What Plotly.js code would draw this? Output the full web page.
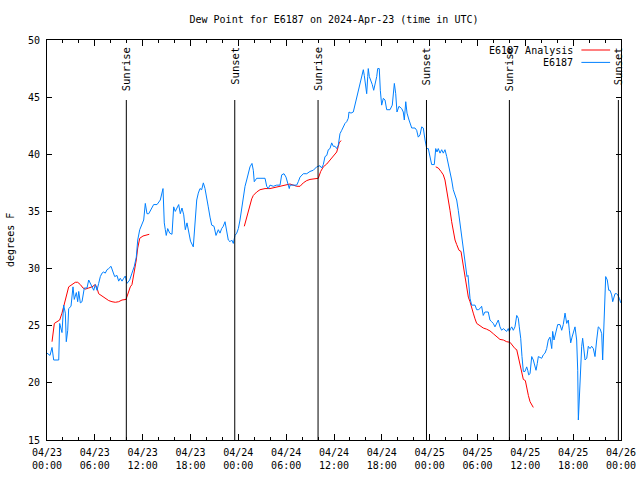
<!DOCTYPE html>
<html>
<head>
<meta charset="utf-8">
<script src="https://cdn.plot.ly/plotly-3.0.1.min.js"></script>
<style>html,body{margin:0;padding:0;background:#fff;}#chart{width:640px;height:480px;}</style>
</head>
<body>
<div id="chart"></div>
<script>
// Hours since 2024-04-23 00:00 UTC
var blueHours = [0.0,0.38,0.63,0.84,1.47,1.59,1.88,2.09,2.30,2.42,2.60,2.72,3.01,3.26,3.42,3.68,3.85,3.98,4.18,4.39,4.68,5.02,5.23,5.43,5.64,5.86,6.06,6.27,6.48,6.69,6.90,7.11,7.31,7.53,7.74,8.03,8.28,8.49,8.78,8.99,9.19,9.41,9.62,9.82,10.03,10.37,10.66,10.95,11.20,11.38,11.63,11.92,12.13,12.33,12.54,12.76,13.17,13.38,13.80,14.21,14.55,14.71,14.84,14.96,15.14,15.39,15.68,15.89,16.09,16.31,16.52,16.72,16.93,17.15,17.35,17.56,17.77,18.00,18.35,18.56,18.78,18.98,19.19,19.40,19.61,19.82,20.03,20.23,20.45,20.66,20.95,21.20,21.49,21.70,21.91,22.11,22.33,22.54,22.74,22.96,23.17,23.37,23.58,23.80,24.00,24.21,24.42,24.62,24.84,25.05,25.25,25.46,25.71,25.88,26.00,26.30,26.72,27.35,27.56,27.76,27.97,28.39,28.81,29.23,29.44,29.73,29.98,30.14,30.39,30.48,30.90,31.32,31.52,31.74,32.15,32.58,32.99,33.40,33.83,34.24,34.46,34.66,34.87,35.09,35.29,35.50,35.71,35.91,36.13,36.34,36.54,36.67,36.75,36.97,37.17,37.38,37.59,37.79,37.88,38.13,38.42,38.63,38.85,39.05,39.26,39.47,39.68,39.80,39.98,40.10,40.23,40.30,40.43,40.60,40.80,40.98,41.14,41.36,41.48,41.68,41.81,41.98,42.19,42.40,42.61,43.03,43.31,43.57,43.74,43.90,44.15,44.49,44.69,44.82,45.00,45.16,45.41,45.75,46.16,46.37,46.57,46.79,47.00,47.20,47.42,47.63,47.83,48.04,48.25,48.58,48.76,48.92,49.08,49.30,49.51,49.71,49.92,50.14,50.34,50.55,50.76,50.96,51.18,51.39,51.59,51.81,51.93,52.10,52.22,52.43,52.56,52.68,52.81,52.93,53.06,53.27,53.69,53.90,54.10,54.31,54.52,54.72,54.93,55.35,55.56,55.77,55.98,56.19,56.41,56.61,56.82,57.03,57.24,57.45,57.66,57.86,57.99,58.16,58.29,58.49,58.70,58.92,59.12,59.24,59.42,59.58,59.75,59.96,60.17,60.30,60.42,60.59,60.80,61.00,61.13,61.34,61.50,61.63,62.05,62.25,62.47,62.68,62.88,63.09,63.31,63.43,63.60,63.85,64.06,64.35,64.56,64.76,64.98,65.19,65.39,65.52,65.69,65.86,66.02,66.23,66.44,66.57,66.65,66.77,66.86,67.07,67.19,67.36,67.49,67.70,67.90,68.11,68.32,68.53,68.74,68.95,69.15,69.37,69.58,69.70,69.87,69.99,70.08,70.28,70.46,70.62,70.83,70.96,71.12,71.25,71.46,71.59,71.79,71.97];
var blueDew = [22.6,22.4,23.1,22.0,22.0,25.2,24.4,26.8,26.1,23.6,24.6,26.5,26.7,28.4,27.3,27.9,27.1,28.0,27.0,27.1,28.3,28.3,29.0,28.7,28.4,28.1,28.6,28.1,28.7,29.3,29.6,29.7,29.6,29.9,30.0,30.2,29.7,29.3,29.4,28.9,29.15,28.9,29.15,29.35,28.7,29.0,29.6,30.2,31.0,32.5,33.4,34.0,34.25,35.7,34.8,34.8,35.4,35.6,35.6,36.0,37.0,34.0,33.4,32.9,33.5,33.1,33.0,35.4,35.0,35.3,35.6,34.8,35.3,34.7,33.4,34.0,33.2,32.4,31.9,34.25,36.0,36.6,37.0,36.9,37.5,37.0,36.3,35.4,34.5,33.8,33.7,32.9,33.4,33.1,33.5,33.7,34.1,33.2,32.5,32.35,32.5,32.2,32.9,33.1,33.5,34.25,35.4,36.3,37.2,37.75,38.3,38.9,39.2,38.6,37.6,37.9,37.9,37.9,37.2,37.0,37.3,37.2,37.3,37.3,38.2,38.3,38.0,37.5,37.0,37.3,37.3,37.3,37.6,38.0,38.3,38.3,38.5,38.6,38.9,39.0,38.8,39.1,39.8,39.9,40.4,40.5,41.0,40.7,40.7,40.5,40.8,41.5,41.8,42.1,42.4,42.7,42.85,43.15,43.7,43.6,43.7,44.3,45.0,45.5,46.2,46.8,47.4,46.9,46.1,45.3,46.8,47.5,46.8,46.5,46.1,45.6,46.1,46.8,47.5,47.5,45.6,44.3,44.9,44.75,43.9,43.9,44.3,46.2,45.3,43.7,44.2,44.0,43.7,43.0,44.6,43.6,43.0,42.3,42.3,42.1,41.5,41.7,42.4,42.3,41.25,40.5,40.5,39.8,39.1,39.1,40.5,40.2,40.5,40.1,40.4,40.1,40.4,39.8,39.2,38.6,37.75,36.9,36.4,36.0,35.1,34.0,33.1,32.35,31.9,31.0,30.2,29.3,29.4,28.1,27.4,26.8,26.8,26.4,26.4,26.5,26.7,25.9,26.2,26.2,25.5,25.35,25.2,24.9,25.2,25.5,24.9,24.6,24.75,24.6,24.5,24.75,24.5,24.75,24.9,24.6,24.9,25.9,25.65,24.9,23.9,22.3,21.0,21.0,21.4,21.1,20.7,20.8,22.3,22.0,21.7,21.1,21.7,22.3,22.15,22.45,22.6,23.0,23.75,24.0,23.0,24.5,23.75,24.5,25.1,25.1,24.6,25.1,26.1,25.2,25.5,24.6,23.5,24.0,24.5,24.9,23.75,21.1,16.75,19.1,20.8,23.2,23.9,22.9,22.0,22.15,23.2,23.0,23.2,23.0,22.3,23.75,24.9,24.75,24.3,22.0,25.6,27.8,29.3,29.0,28.1,28.1,27.7,27.1,27.5,27.8,27.8,27.7,27.4,27.0];

var redHours = [0.63,0.75,0.92,1.25,1.59,1.88,2.09,2.30,2.51,2.72,3.14,3.55,3.85,4.18,4.52,4.80,5.23,5.64,6.06,6.27,6.48,6.90,7.31,7.74,8.15,8.57,8.99,9.41,9.91,10.12,10.45,10.66,10.95,11.20,11.38,11.63,12.04,12.46,12.83,
  18.0,
  24.75,25.05,25.38,25.68,25.88,26.30,26.72,27.35,27.97,28.60,29.01,29.64,30.48,31.32,31.74,32.15,32.58,32.99,33.62,34.03,34.33,34.66,35.09,35.50,35.91,36.34,36.54,36.65,36.88,
  42.0,
  48.76,49.08,49.42,49.71,49.92,50.14,50.34,50.55,50.76,50.96,51.18,51.39,51.68,51.93,52.10,52.27,52.43,52.64,52.85,53.06,53.27,53.47,53.69,53.90,54.31,54.72,55.13,55.56,55.98,56.41,56.82,57.24,57.66,58.08,58.41,58.70,58.92,59.12,59.24,59.42,59.58,59.75,60.00,60.17,60.38,60.59,60.80,61.00];
var redDew = [23.6,24.3,25.2,25.35,25.5,26.1,26.7,27.25,28.0,28.4,28.6,28.8,28.8,28.6,28.3,28.2,28.3,28.4,28.6,28.3,27.8,27.6,27.4,27.2,27.1,27.05,27.1,27.25,27.3,27.8,28.4,28.6,29.6,30.75,31.8,32.65,32.85,32.9,33.0,
  null,
  33.7,34.5,35.4,36.1,36.4,36.7,36.9,37.0,37.0,37.1,37.2,37.3,37.4,37.2,37.2,37.5,37.7,37.8,37.9,37.9,38.5,38.9,39.15,39.5,39.8,40.2,40.7,41.0,41.2,
  null,
  38.9,38.8,38.5,38.2,37.75,36.9,36.0,35.1,34.1,33.2,32.5,32.1,31.6,31.5,30.75,29.9,29.0,28.1,27.5,27.1,26.5,26.1,25.6,25.2,25.0,24.8,24.7,24.55,24.3,24.0,23.8,23.75,23.6,23.55,23.2,23.0,22.9,22.3,21.7,21.35,20.7,20.3,20.2,19.5,18.9,18.35,18.05,17.85];

var sunriseHours = [9.95, 34.0, 58.0];
var sunsetHours = [23.55, 47.6, 71.67];

var seriesNames = ["E6187 Analysis", "E6187"];
var seriesColors = ["#ff0000", "#0080ff"];

var BASE = Date.UTC(2024, 3, 23);
function toT(h) { return h === null ? null : BASE + h * 3600000; }

var FONT = "DejaVu Sans Mono, monospace";

var traces = [
  {x: redHours.map(toT), y: redDew, type: "scatter", mode: "lines", name: seriesNames[0],
   line: {color: seriesColors[0], width: 1}, connectgaps: false, showlegend: false},
  {x: blueHours.map(toT), y: blueDew, type: "scatter", mode: "lines", name: seriesNames[1],
   line: {color: seriesColors[1], width: 1}, showlegend: false}
];

var shapes = [];
var annotations = [];
function sunMarker(h, label) {
  shapes.push({type: "line", xref: "x", yref: "paper", x0: toT(h), x1: toT(h), y0: 0, y1: 0.85,
               line: {color: "#000", width: 1}});
  annotations.push({xref: "x", yref: "paper", x: toT(h), y: 0.985, xanchor: "center", yanchor: "top",
                    text: label, textangle: -90, showarrow: false, borderpad: 0,
                    font: {family: FONT, size: 10.5, color: "#000"}});
}
sunriseHours.forEach(function (h) { sunMarker(h, "Sunrise"); });
sunsetHours.forEach(function (h) { sunMarker(h, "Sunset"); });

// custom gnuplot-style key (text right, sample line to the right)
var keyY = [0.975, 0.944];
for (var i = 0; i < 2; i++) {
  annotations.push({xref: "paper", yref: "paper", x: 0.918, y: keyY[i], xanchor: "right", yanchor: "middle",
                    text: seriesNames[i], showarrow: false, borderpad: 0,
                    font: {family: FONT, size: 10, color: "#000"}});
  shapes.push({type: "line", xref: "paper", yref: "paper", x0: 0.931, x1: 0.981, y0: keyY[i], y1: keyY[i],
               line: {color: seriesColors[i], width: 1}});
}
annotations.push({xref: "paper", yref: "paper", x: -0.0645, y: 0.5, xanchor: "center", yanchor: "middle",
                  text: "degrees F", textangle: -90, showarrow: false,
                  font: {family: FONT, size: 10, color: "#000"}});

var layout = {
  width: 640, height: 480,
  margin: {l: 47, r: 19, t: 40, b: 40, pad: 0},
  paper_bgcolor: "#fff", plot_bgcolor: "#fff",
  font: {family: FONT, size: 10, color: "#000"},
  title: {text: "Dew Point for E6187 on 2024-Apr-23 (time in UTC)", x: 0.5, xref: "paper",
          y: 0.96, yanchor: "middle", font: {family: FONT, size: 10, color: "#000"}},
  showlegend: false,
  xaxis: {
    type: "date", range: [toT(0), toT(72)], tickmode: "linear", tick0: toT(0), dtick: 21600000,
    tickformat: "%m/%d<br>%H:%M", ticks: "inside", ticklen: 6, tickcolor: "#000", tickwidth: 1,
    ticklabelstandoff: 3,
    showline: true, linecolor: "#000", linewidth: 1, mirror: "ticks", showgrid: false, zeroline: false,
    minor: {dtick: 7200000, tick0: toT(0), ticks: "inside", ticklen: 3, tickcolor: "#000", showgrid: false},
    tickfont: {family: FONT, size: 10, color: "#000"}
  },
  yaxis: {
    range: [15, 50], tickmode: "linear", tick0: 15, dtick: 5, ticks: "inside", ticklen: 5,
    ticklabelstandoff: 4,
    tickcolor: "#000", showline: true, linecolor: "#000", linewidth: 1, mirror: "ticks",
    showgrid: false, zeroline: false, tickfont: {family: FONT, size: 10, color: "#000"}
  },
  shapes: shapes,
  annotations: annotations
};

Plotly.newPlot("chart", traces, layout, {staticPlot: true, displayModeBar: false});
</script>
</body>
</html>
